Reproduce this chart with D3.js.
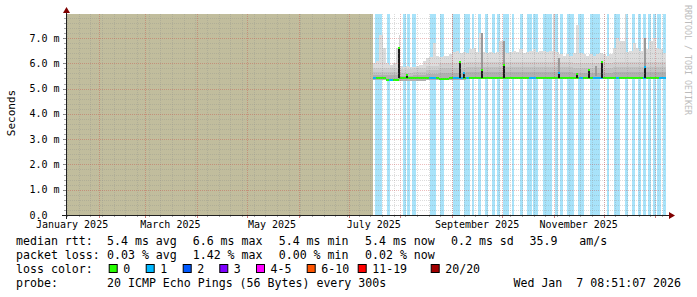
<!DOCTYPE html>
<html>
<head>
<meta charset="utf-8">
<script src="https://cdn.jsdelivr.net/npm/d3@7"></script>
<style>
body { margin: 0; background: #fff; }
svg { display: block; }
text { font-family: "DejaVu Sans Mono", monospace; white-space: pre; }
</style>
</head>
<body>
<div class="chart"></div>
<script>

// 360 day window ending at probe time
const windowStart = "2025-01-12 08:51";
const windowEnd = "2026-01-07 08:51";
const unknownEnd = "2025-07-15 10:00";   // no data before this

const yTicks = [0, 1, 2, 3, 4, 5, 6, 7];
const yTickLabels = ["0.0", "1.0 m", "2.0 m", "3.0 m", "4.0 m", "5.0 m", "6.0 m", "7.0 m"];
const monthLabels = ["January 2025", "March 2025", "May 2025", "July 2025", "September 2025", "November 2025"];
const monthLabelDates = ["2025-01-01 00:00", "2025-03-01 00:00", "2025-05-01 00:00", "2025-07-01 00:00", "2025-09-01 00:00", "2025-11-01 00:00"];

// smoke, one value every 2 days from smokeStart (ms)
const smokeStart = "2025-07-15 10:00";
const smokeTop = [
  6.0, 6.1, 7.1, 6.6, 6.0, 5.95, 6.0, 6.6, 5.9, 5.85,
  5.9, 5.85, 5.85, 5.9, 5.95, 6.1, 6.2, 6.25, 6.8, 6.3,
  6.25, 6.3, 6.3, 6.35, 6.45, 6.5, 6.4, 6.45, 6.4, 6.55,
  6.6, 6.45, 7.2, 6.45, 6.4, 6.45, 6.4, 6.45, 6.9, 6.45,
  6.4, 6.45, 6.5, 6.45, 6.55, 6.4, 6.45, 6.5, 6.55, 6.45,
  6.5, 6.5, 6.45, 6.5, 6.5, 6.45, 6.35, 6.3, 6.35, 6.3,
  6.4, 7.5, 6.4, 6.35, 6.3, 6.35, 6.3, 6.35, 6.4, 6.35,
  6.3, 6.35, 6.6, 7.0, 6.9, 6.9, 6.45, 6.5, 6.8, 6.6,
  6.5, 7.0, 6.55, 6.9, 7.0, 6.6, 6.55, 6.4
];
const medianVals = [
  5.4, 5.4, 5.4, 5.4, 5.33, 5.33, 5.33, 5.33, 5.4, 5.4,
  5.4, 5.4, 5.4, 5.4, 5.4, 5.4, 5.4, 5.4, 5.4, 5.4,
  5.37, 5.37, 5.37, 5.4, 5.4, 5.4, 5.4, 5.4, 5.4, 5.4,
  5.4, 5.4, 5.4, 5.4, 5.4, 5.4, 5.4, 5.4, 5.4, 5.4,
  5.4, 5.4, 5.4, 5.4, 5.4, 5.4, 5.4, 5.4, 5.4, 5.4,
  5.4, 5.4, 5.4, 5.4, 5.4, 5.4, 5.4, 5.4, 5.4, 5.4,
  5.4, 5.4, 5.4, 5.4, 5.4, 5.4, 5.4, 5.4, 5.4, 5.4,
  5.4, 5.4, 5.4, 5.4, 5.4, 5.4, 5.4, 5.4, 5.4, 5.4,
  5.4, 5.4, 5.4, 5.4, 5.4, 5.4, 5.4, 5.4
];
const medianLoss = [
  1, 0, 0, 0, 0, 1, 0, 0, 0, 0,
  0, 0, 0, 0, 0, 0, 0, 1, 1, 0,
  0, 0, 0, 0, 1, 1, 1, 0, 1, 0,
  0, 0, 0, 0, 0, 0, 0, 0, 0, 0,
  0, 0, 0, 0, 0, 0, 0, 1, 1, 0,
  0, 0, 0, 0, 0, 0, 0, 0, 0, 0,
  0, 0, 1, 0, 0, 0, 1, 1, 1, 0,
  0, 0, 0, 1, 0, 0, 0, 0, 0, 0,
  0, 1, 0, 0, 0, 0, 1, 1
];

// inner smoke bands, one value every 8 days
const band2 = [5.8, 5.8, 5.78, 5.8, 5.9, 6.0, 6.0, 6.05, 6.05, 6.07, 6.07, 6.05, 6.07, 6.07, 6.05, 6.0, 6.0, 6.02, 6.05, 6.05, 6.07, 6.07];
const band3 = [5.65, 5.65, 5.62, 5.65, 5.72, 5.8, 5.82, 5.85, 5.87, 5.87, 5.87, 5.85, 5.87, 5.87, 5.85, 5.82, 5.82, 5.83, 5.85, 5.85, 5.87, 5.87];
const band4 = [5.52, 5.52, 5.5, 5.52, 5.58, 5.62, 5.63, 5.65, 5.67, 5.67, 5.67, 5.65, 5.67, 5.67, 5.65, 5.63, 5.63, 5.63, 5.65, 5.65, 5.67, 5.67];
const smokeLow = [5.34, 5.34, 5.3, 5.3, 5.34, 5.34, 5.35, 5.36, 5.36, 5.36, 5.36, 5.36, 5.36, 5.36, 5.36, 5.36, 5.36, 5.36, 5.36, 5.36, 5.36, 5.36];

// single tall smoke columns
const thinSpikeDates = ["2025-07-31 04:00", "2025-08-31 23:00", "2025-10-31 14:00", "2025-12-13 18:00"];
const thinSpikeTops = [7.1, 7.95, 7.95, 7.95];

const darkColDates = ["2025-09-18 17:00", "2025-10-01 14:00", "2025-11-03 21:00", "2025-11-25 19:00", "2025-12-25 12:00"];
const darkColTops = [7.2, 6.9, 6.2, 5.9, 7.0];

// median jumps (all pings high)
const spikeDates = ["2025-07-31 04:00", "2025-08-04 23:00", "2025-09-05 12:00", "2025-09-08 04:00", "2025-09-18 17:00",
  "2025-10-01 14:00", "2025-11-03 21:00", "2025-11-14 16:00", "2025-11-21 21:00", "2025-11-29 17:00", "2025-12-25 12:00"];
const spikeTops = [6.6, 5.55, 6.05, 5.6, 5.75, 5.95, 5.62, 5.58, 5.75, 6.07, 5.87];
const spikeLoss = [0, 0, 0, 1, 0, 0, 1, 0, 0, 0, 1];

// loss stripes: start and length in days
const stripeStarts = ["2025-07-16 12:00", "2025-07-18 08:00", "2025-07-23 18:00", "2025-08-02 08:00", "2025-08-04 18:00",
  "2025-08-07 18:00", "2025-08-18 12:00", "2025-08-20 08:00", "2025-08-24 12:00", "2025-09-01 08:00", "2025-09-08 00:00",
  "2025-09-12 18:00", "2025-09-16 08:00", "2025-09-20 12:00", "2025-09-24 18:00", "2025-09-27 18:00", "2025-10-01 08:00",
  "2025-10-06 18:00", "2025-10-11 12:00", "2025-10-15 18:00", "2025-10-19 08:00", "2025-10-25 08:00", "2025-11-01 12:00",
  "2025-11-04 12:00", "2025-11-08 18:00", "2025-11-15 08:00", "2025-11-22 12:00", "2025-12-02 18:00", "2025-12-07 00:00",
  "2025-12-13 12:00", "2025-12-17 18:00", "2025-12-21 08:00", "2025-12-24 08:00", "2025-12-27 08:00", "2025-12-30 08:00",
  "2026-01-01 18:00", "2026-01-05 08:00"];
const stripeDays = [1.8, 2.4, 1.8, 1.8, 1.8, 2.4, 1.8, 1.8, 2.4, 4.2, 3.6, 1.2, 1.8, 1.8, 1.8, 1.8, 3.6,
  1.2, 1.8, 3.0, 3.0, 5.4, 1.8, 1.8, 4.2, 3.6, 6.0, 1.2, 3.6, 1.8, 1.8, 1.8, 1.8, 1.8, 1.8, 2.4, 2.4];

const lossBuckets = ["0", "1", "2", "3", "4-5", "6-10", "11-19", "20/20"];
const lossColors = ["#26ff00", "#00b8ff", "#0059ff", "#7e00ff", "#ff00ff", "#ff5500", "#ff0000", "#a10000"];
const rttLegend = ["5.4 ms avg", "6.6 ms max", "5.4 ms min", "5.4 ms now", "0.2 ms sd", "35.9", "am/s"];
const lossLegend = ["0.03 % avg", "1.42 % max", "0.00 % min", "0.02 % now"];
const probeText = "20 ICMP Echo Pings (56 Bytes) every 300s";
const stampText = "Wed Jan  7 08:51:07 2026";


const parse = d3.timeParse("%Y-%m-%d %H:%M");
const W = 697, H = 297;
const pLeft = 66, pRight = 666, pTop = 14, pBottom = 215;

const x = d3.scaleTime().domain([parse(windowStart), parse(windowEnd)]).range([pLeft, pRight]);
const y = d3.scaleLinear().domain([0, 7.95]).range([pBottom, pTop]);

const svg = d3.select(".chart").append("svg")
    .attr("width", W)
    .attr("height", H);

svg.append("rect").attr("width", W).attr("height", H).attr("fill", "#fff");

svg.append("clipPath").attr("id", "plot")
    .append("rect").attr("x", pLeft).attr("y", pTop).attr("width", pRight - pLeft).attr("height", pBottom - pTop);

const g = svg.append("g").attr("clip-path", "url(#plot)").attr("shape-rendering", "crispEdges");

// unknown area
g.append("rect")
    .attr("x", pLeft).attr("y", pTop)
    .attr("width", x(parse(unknownEnd)) - pLeft)
    .attr("height", pBottom - pTop)
    .attr("fill", "#c1bd9d");

// loss stripes
g.selectAll(".stripe")
    .data(stripeStarts)
    .enter().append("rect")
    .attr("class", "stripe")
    .attr("x", d => x(parse(d)))
    .attr("y", pTop)
    .attr("width", (d, i) => x(d3.timeHour.offset(parse(d), Math.round(stripeDays[i] * 24))) - x(parse(d)))
    .attr("height", pBottom - pTop)
    .attr("fill", "#a8e3fa");

function stepX(i, days) {
    return x(d3.timeDay.offset(parse(smokeStart), i * days));
}

function drawBand(tops, lows, days, color) {
    g.append("g").selectAll("rect")
        .data(tops)
        .enter().append("rect")
        .attr("x", (d, i) => stepX(i, days))
        .attr("width", (d, i) => stepX(i + 1, days) - stepX(i, days))
        .attr("y", d => y(d))
        .attr("height", (d, i) => y(lows[Math.floor(i * days / 8)]) - y(d))
        .attr("fill", color);
}

drawBand(smokeTop, smokeLow, 2, "#dcdcdc");

g.selectAll(".thin")
    .data(thinSpikeDates)
    .enter().append("rect")
    .attr("x", d => x(parse(d)))
    .attr("width", 1.5)
    .attr("y", (d, i) => y(thinSpikeTops[i]))
    .attr("height", (d, i) => y(6.0) - y(thinSpikeTops[i]))
    .attr("fill", "#d4d4d4");

drawBand(band2, smokeLow, 8, "#cfcfcf");
drawBand(band3, smokeLow, 8, "#c2c2c2");
drawBand(band4, smokeLow, 8, "#b0b0b0");

g.selectAll(".darkcol")
    .data(darkColDates)
    .enter().append("rect")
    .attr("x", d => x(parse(d)) - 0.5)
    .attr("width", 2)
    .attr("y", (d, i) => y(darkColTops[i]))
    .attr("height", (d, i) => y(5.5) - y(darkColTops[i]))
    .attr("fill", "#9a9a9a");

// median line coloured by loss
g.selectAll(".median")
    .data(medianVals)
    .enter().append("rect")
    .attr("x", (d, i) => stepX(i, 2))
    .attr("width", (d, i) => stepX(i + 1, 2) - stepX(i, 2))
    .attr("y", d => y(d) - 1)
    .attr("height", 2)
    .attr("fill", (d, i) => lossColors[medianLoss[i]]);

g.selectAll(".spike")
    .data(spikeDates)
    .enter().append("rect")
    .attr("x", d => x(parse(d)) - 0.5)
    .attr("width", 2)
    .attr("y", (d, i) => y(spikeTops[i]))
    .attr("height", (d, i) => y(5.4) - y(spikeTops[i]))
    .attr("fill", "#1e1e1e");

g.selectAll(".spikedot")
    .data(spikeDates)
    .enter().append("rect")
    .attr("x", d => x(parse(d)) - 0.5)
    .attr("width", 2)
    .attr("y", (d, i) => y(spikeTops[i]) - 1)
    .attr("height", 2)
    .attr("fill", (d, i) => lossColors[spikeLoss[i]]);

// grid on top, rrdtool style dots
const minorCol = "rgba(140,140,140,0.3)", majorCol = "rgba(200,50,50,0.32)";
const yMinor = d3.range(0.2, 7.9, 0.2).filter(v => Math.abs(v - Math.round(v)) > 0.01);
const weeks = d3.timeMonday.range(parse(windowStart), parse(windowEnd));
const months = d3.timeMonth.range(parse(windowStart), parse(windowEnd));

const grid = svg.append("g").attr("shape-rendering", "crispEdges");
grid.selectAll(".hmin").data(yMinor).enter().append("line")
    .attr("x1", pLeft).attr("x2", pRight)
    .attr("y1", d => Math.round(y(d)) + 0.5).attr("y2", d => Math.round(y(d)) + 0.5)
    .attr("stroke", minorCol).attr("stroke-dasharray", "1,1");
grid.selectAll(".vmin").data(weeks).enter().append("line")
    .attr("x1", d => Math.round(x(d)) + 0.5).attr("x2", d => Math.round(x(d)) + 0.5)
    .attr("y1", pTop).attr("y2", pBottom)
    .attr("stroke", minorCol).attr("stroke-dasharray", "1,1");
grid.selectAll(".hmaj").data(yTicks.slice(1)).enter().append("line")
    .attr("x1", pLeft).attr("x2", pRight)
    .attr("y1", d => Math.round(y(d)) + 0.5).attr("y2", d => Math.round(y(d)) + 0.5)
    .attr("stroke", majorCol).attr("stroke-dasharray", "1,1");
grid.selectAll(".vmaj").data(months).enter().append("line")
    .attr("x1", d => Math.round(x(d)) + 0.5).attr("x2", d => Math.round(x(d)) + 0.5)
    .attr("y1", pTop).attr("y2", pBottom)
    .attr("stroke", majorCol).attr("stroke-dasharray", "1,1");

// tick marks outside the plot
grid.selectAll(".ytk").data(yMinor).enter().append("line")
    .attr("x1", pLeft - 2).attr("x2", pLeft)
    .attr("y1", d => Math.round(y(d)) + 0.5).attr("y2", d => Math.round(y(d)) + 0.5)
    .attr("stroke", "#aaa");
grid.selectAll(".ytkm").data(yTicks).enter().append("line")
    .attr("x1", pLeft - 3).attr("x2", pLeft)
    .attr("y1", d => Math.round(y(d)) + 0.5).attr("y2", d => Math.round(y(d)) + 0.5)
    .attr("stroke", "#888");
grid.selectAll(".xtk").data(weeks).enter().append("line")
    .attr("x1", d => Math.round(x(d)) + 0.5).attr("x2", d => Math.round(x(d)) + 0.5)
    .attr("y1", pBottom).attr("y2", pBottom + 2)
    .attr("stroke", "#aaa");
grid.selectAll(".xtkm").data(months).enter().append("line")
    .attr("x1", d => Math.round(x(d)) + 0.5).attr("x2", d => Math.round(x(d)) + 0.5)
    .attr("y1", pBottom).attr("y2", pBottom + 3)
    .attr("stroke", "#d08080");

// axes and arrows
grid.append("line").attr("x1", pLeft - 4).attr("x2", pRight + 4)
    .attr("y1", pBottom + 0.5).attr("y2", pBottom + 0.5).attr("stroke", "#202020");
grid.append("line").attr("x1", pLeft + 0.5).attr("x2", pLeft + 0.5)
    .attr("y1", pBottom + 4).attr("y2", pTop - 2).attr("stroke", "#202020");
svg.append("path").attr("d", `M${pLeft - 3},${pTop - 1}L${pLeft + 4},${pTop - 1}L${pLeft + 0.5},${pTop - 7}Z`).attr("fill", "#7f0000");
svg.append("path").attr("d", `M${pRight + 3},${pBottom - 3}L${pRight + 3},${pBottom + 4}L${pRight + 9},${pBottom + 0.5}Z`).attr("fill", "#7f0000");

// axis labels
svg.selectAll(".ylab").data(yTicks).enter().append("text")
    .attr("x", 29.5)
    .attr("y", d => y(d) + 3.5)
    .attr("font-size", "10px")
    .text((d, i) => yTickLabels[i]);

svg.selectAll(".xlab").data(monthLabelDates).enter().append("text")
    .attr("x", d => x(d3.timeDay.offset(parse(d), 15)))
    .attr("y", 228)
    .attr("text-anchor", "middle")
    .attr("font-size", "10px")
    .text((d, i) => monthLabels[i]);

svg.append("text")
    .attr("transform", "translate(15,113) rotate(-90)")
    .attr("text-anchor", "middle")
    .attr("font-size", "11px")
    .text("Seconds");

svg.append("text")
    .attr("transform", "translate(685,5) rotate(90)")
    .attr("font-size", "8.3px")
    .attr("fill", "#bcbcbc")
    .text("RRDTOOL / TOBI OETIKER");

// legend
const lfs = "11.6px";
const cols = [107, 192.7, 278.7, 365, 451, 529.5, 579.3];
const rows = [245, 259, 273, 287];

const legend = svg.append("g").attr("font-size", lfs);
legend.append("text").attr("x", 16).attr("y", rows[0]).text("median rtt:");
legend.selectAll(".rtt").data(rttLegend).enter().append("text")
    .attr("x", (d, i) => cols[i]).attr("y", rows[0]).text(d => d);

legend.append("text").attr("x", 16).attr("y", rows[1]).text("packet loss:");
legend.selectAll(".pl").data(lossLegend).enter().append("text")
    .attr("x", (d, i) => cols[i]).attr("y", rows[1]).text(d => d);

legend.append("text").attr("x", 16).attr("y", rows[2]).text("loss color:");
const boxX = [108.7, 145.7, 182.7, 219.3, 256, 306.7, 357.7, 430.7];
const items = legend.selectAll(".lc").data(lossBuckets).enter().append("g")
    .attr("transform", (d, i) => "translate(" + boxX[i] + ",0)");
items.append("rect")
    .attr("x", 0.5).attr("y", 264.5)
    .attr("width", 8).attr("height", 8)
    .attr("fill", (d, i) => lossColors[i])
    .attr("stroke", "#000");
items.append("text").attr("x", 14.5).attr("y", rows[2]).text(d => d);

legend.append("text").attr("x", 16).attr("y", rows[3]).text("probe:");
legend.append("text").attr("x", 107).attr("y", rows[3]).text(probeText);
legend.append("text").attr("x", 681).attr("y", rows[3]).attr("text-anchor", "end").text(stampText);

</script>
</body>
</html>
